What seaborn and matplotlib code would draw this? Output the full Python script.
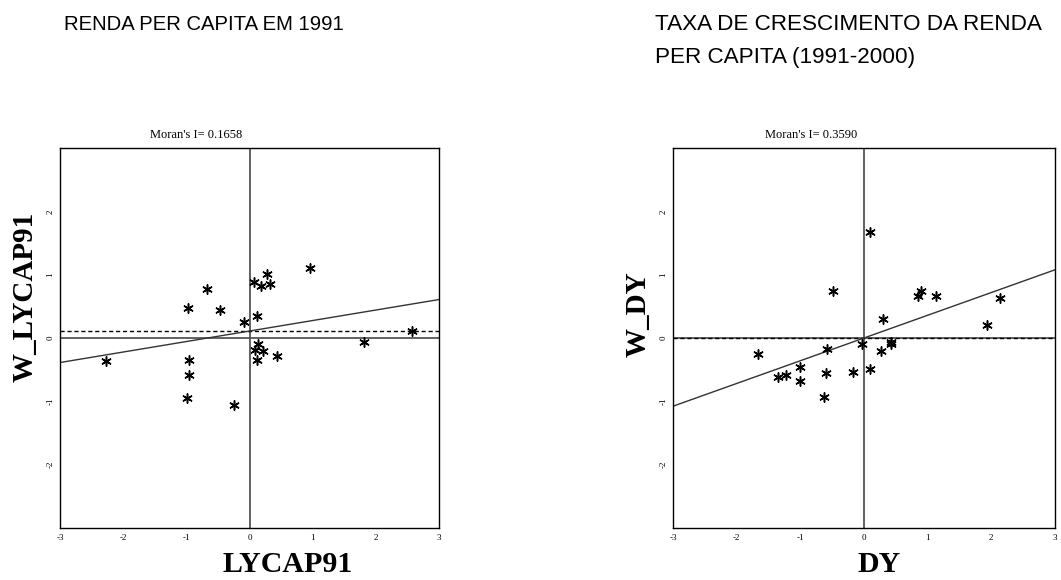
import numpy as np
import pandas as pd
import matplotlib
matplotlib.use("Agg")
import matplotlib.pyplot as plt
import seaborn as sns

# Moran scatterplot data: standardized variable vs. its spatial lag
lycap91 = [-2.27, -0.98, -0.67, -0.47, -0.08, -0.96, -0.96, -0.99, -0.25, 0.07, 0.27,
           0.18, 0.33, 0.95, 0.12, 0.14, 0.08, 0.21, 0.12, 0.43, 1.81, 2.58]
w_lycap91 = [-0.36, 0.47, 0.78, 0.44, 0.25, -0.35, -0.58, -0.95, -1.05, 0.89, 1.01,
             0.82, 0.86, 1.10, 0.35, -0.10, -0.19, -0.20, -0.35, -0.28, -0.06, 0.11]

dy = [0.09, -0.49, 0.85, 0.89, 1.13, 2.14, 0.30, 1.93, -1.66, -0.58, -0.03,
      0.42, 0.42, 0.26, -1.01, -1.35, -1.22, -1.01, -0.59, -0.17, 0.09, -0.63]
w_dy = [1.68, 0.74, 0.66, 0.74, 0.67, 0.63, 0.30, 0.20, -0.25, -0.17, -0.10,
        -0.06, -0.10, -0.20, -0.46, -0.61, -0.59, -0.68, -0.55, -0.53, -0.49, -0.93]

moran_i = [0.1658, 0.3590]
intercepts = [0.11, 0.0]
lag_means = [0.107, -0.005]
x_names = ["LYCAP91", "DY"]
y_names = ["W_LYCAP91", "W_DY"]
panel_titles = [["RENDA PER CAPITA EM 1991"],
                ["TAXA DE CRESCIMENTO DA RENDA", "PER CAPITA (1991-2000)"]]

sns.set_style("white")
plt.rcParams["font.family"] = ["Liberation Serif", "DejaVu Serif"]
plt.rcParams["axes.unicode_minus"] = False
plt.rcParams["text.color"] = "black"

fig = plt.figure(figsize=(10.61, 5.80), dpi=100)
W, H = 1061, 580
boxes = [(60, 148, 379, 380), (673, 148, 382, 380)]
xlabel_x = [288, 879]
ylabel_x = [25, 638]
ylabel_y = [297, 314]
title_x = [196, 811]
header_x = [64, 655]
header_size = [14.6, 16.2]
header_baselines = [30.5, 63.5]

frames = [pd.DataFrame({"x": lycap91, "y": w_lycap91}),
          pd.DataFrame({"x": dy, "y": w_dy})]

asterisk = (6, 2, 0)
for i, df in enumerate(frames):
    l, t, w, h = boxes[i]
    ax = fig.add_axes([l / W, 1 - (t + h) / H, w / W, h / H])
    ax.axhline(0, color="#555555", lw=1.3, zorder=1)
    ax.axvline(0, color="#555555", lw=1.3, zorder=1)
    ax.axhline(lag_means[i], color="black", lw=1.0, ls=(0, (3, 2)), zorder=1)
    xs = np.array([-3.0, 3.0])
    ax.plot(xs, intercepts[i] + moran_i[i] * xs, color="#333333", lw=1.0, zorder=2)
    sns.scatterplot(data=df, x="x", y="y", ax=ax, marker=asterisk, s=45,
                    color="black", linewidth=1.1, edgecolor="black", zorder=3, legend=False)
    ax.set_xlim(-3, 3)
    ax.set_ylim(-3, 3)
    ax.set_xticks([-3, -2, -1, 0, 1, 2, 3])
    ax.set_yticks([-2, -1, 0, 1, 2])
    ax.tick_params(axis="both", direction="out", length=3, width=0.8, labelsize=6.5,
                   pad=1, colors="black")
    for lab in ax.get_yticklabels():
        lab.set_rotation(90)
        lab.set_va("center")
    for s in ax.spines.values():
        s.set_color("black")
        s.set_linewidth(1.0)
    ax.set_xlabel("")
    ax.set_ylabel("")
    fig.text(xlabel_x[i] / W, 1 - 565 / H, x_names[i], ha="center", va="center",
             fontsize=21.5, fontweight="bold")
    fig.text(ylabel_x[i] / W, 1 - ylabel_y[i] / H, y_names[i], ha="center",
             va="center", rotation=90, fontsize=21, fontweight="bold")
    fig.text(title_x[i] / W, 1 - 135 / H, "Moran's I= %.4f" % moran_i[i], ha="center",
             va="center", fontsize=9)
    for line, base in zip(panel_titles[i], header_baselines):
        fig.text(header_x[i] / W, 1 - base / H, line, ha="left", va="baseline",
                 fontsize=header_size[i], family="Liberation Sans")

fig.savefig("out.png", dpi=100)
